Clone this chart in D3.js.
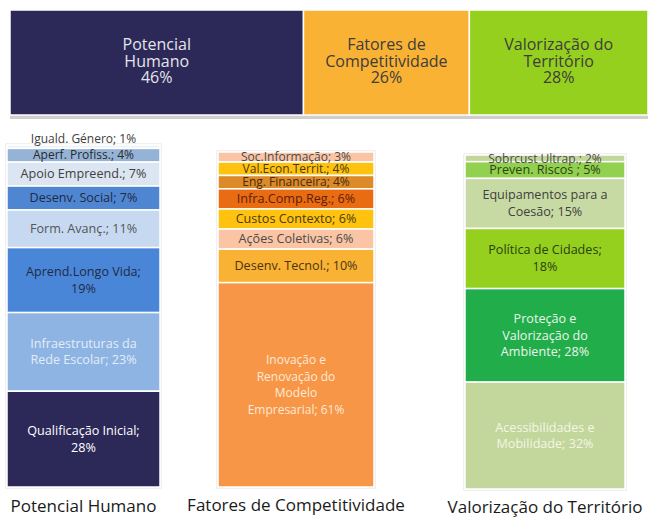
<!DOCTYPE html>
<html>
<head>
<meta charset="utf-8">
<script src="https://cdn.jsdelivr.net/npm/d3@7"></script>
<style>
  body { margin: 0; background: #fff; }
  svg { display: block; }
  text { font-family: "Open Sans", Lato, sans-serif; }
</style>
</head>
<body>
<div id="chart"></div>
<script>
// top bar: the three axes and their share of the total
const groups = ["Potencial Humano", "Fatores de Competitividade", "Valorização do Território"];
const groupTitles = ["Potencial\nHumano", "Fatores de\nCompetitividade", "Valorização do\nTerritório"];
const groupShares = [46, 26, 28];
const groupColors = ["#2c2958", "#f9b233", "#95d01e"];
const groupTextColors = ["#e4e4ec", "#3d3d3d", "#3d3d3d"];

// column 1 - Potencial Humano (top to bottom)
const humanoLabels = ["Iguald. Género; {v}%", "Aperf. Profiss.; {v}%", "Apoio Empreend.; {v}%", "Desenv. Social; {v}%",
  "Form. Avanç.; {v}%", "Aprend.Longo Vida;\n{v}%", "Infraestruturas da\nRede Escolar; {v}%", "Qualificação Inicial;\n{v}%"];
const humanoValues = [1, 4, 7, 7, 11, 19, 23, 28];
const humanoColors = ["#eef2f8", "#95b3d7", "#dce6f2", "#4f86d2", "#c6d9f1", "#4a86d8", "#8db4e3", "#2c2958"];
const humanoText = ["#404040", "#2a2a2a", "#404040", "#1f2a44", "#555555", "#1f2a44", "#e4ecf7", "#ffffff"];

// column 2 - Fatores de Competitividade
const fatoresLabels = ["Soc.Informação; {v}%", "Val.Econ.Territ.; {v}%", "Eng. Financeira; {v}%", "Infra.Comp.Reg.; {v}%",
  "Custos Contexto; {v}%", "Ações Coletivas; {v}%", "Desenv. Tecnol.; {v}%", "Inovação e\nRenovação do\nModelo\nEmpresarial; {v}%"];
const fatoresValues = [3, 4, 4, 6, 6, 6, 10, 61];
const fatoresColors = ["#fbc5a5", "#ffc20e", "#dc8b2b", "#ea6c12", "#ffc20e", "#fbc5a5", "#f9b233", "#f79646"];
const fatoresText = ["#4a4a4a", "#4a3b10", "#4a2a0a", "#5a200a", "#4a3b10", "#4a4a4a", "#4a3510", "#fde9d9"];

// column 3 - Valorização do Território
const territorioLabels = ["Sobrcust Ultrap.; {v}%", "Preven. Riscos ; {v}%", "Equipamentos para a\nCoesão; {v}%",
  "Política de Cidades;\n{v}%", "Proteção e\nValorização do\nAmbiente; {v}%", "Acessibilidades e\nMobilidade; {v}%"];
const territorioValues = [2, 5, 15, 18, 28, 32];
const territorioColors = ["#c4d79b", "#92d050", "#c8daa4", "#95d01e", "#22ad4b", "#c3d69b"];
const territorioText = ["#4a4a4a", "#2b4410", "#404040", "#2b4010", "#eaf6ea", "#f2f6e6"];

const width = 650;
const height = 517;

const svg = d3.select("#chart").append("svg")
  .attr("width", width)
  .attr("height", height);

// ---- top bar ----
const xTop = d3.scaleLinear().domain([0, 100]).range([10, 648]);
const barTop = 10, barBottom = 115;

svg.append("rect")
  .attr("x", 10).attr("y", barBottom)
  .attr("width", 638).attr("height", 4)
  .attr("fill", "#cfcfcf");

let acc = 0;
const topData = groups.map((g, i) => {
  const d = { name: g, title: groupTitles[i], v: groupShares[i], x0: acc, i: i };
  acc += groupShares[i];
  return d;
});

const topG = svg.append("g").selectAll("g")
  .data(topData)
  .join("g");

topG.append("rect")
  .attr("x", d => xTop(d.x0))
  .attr("y", barTop)
  .attr("width", d => xTop(d.x0 + d.v) - xTop(d.x0))
  .attr("height", barBottom - barTop)
  .attr("fill", d => groupColors[d.i])
  .attr("stroke", "#fff")
  .attr("stroke-width", 1.5);

topG.each(function(d) {
  const lines = (d.title + "\n" + d.v + "%").split("\n");
  const cx = (xTop(d.x0) + xTop(d.x0 + d.v)) / 2;
  const t = d3.select(this).append("text")
    .attr("text-anchor", "middle")
    .attr("fill", groupTextColors[d.i])
    .style("font-size", "16px");
  lines.forEach((l, k) => {
    t.append("tspan").attr("x", cx).attr("y", 50 + k * 16.5).text(l);
  });
});

// ---- stacked columns ----
const columns = [
  { name: groups[0], labels: humanoLabels, values: humanoValues, colors: humanoColors, text: humanoText, x0: 7, x1: 160, top: 145, bottom: 487, capY: 512 },
  { name: groups[1], labels: fatoresLabels, values: fatoresValues, colors: fatoresColors, text: fatoresText, x0: 218, x1: 374, top: 152, bottom: 487, capY: 511 },
  { name: groups[2], labels: territorioLabels, values: territorioValues, colors: territorioColors, text: territorioText, x0: 465, x1: 625, top: 155, bottom: 489, capY: 513 }
];

columns.forEach(col => {
  const y = d3.scaleLinear().domain([0, d3.sum(col.values)]).range([col.top, col.bottom]);
  const g = svg.append("g");

  let s = 0;
  const segs = col.values.map((v, i) => {
    const d = { v: v, s0: s, s1: s + v, label: col.labels[i].replace("{v}", v), fill: col.colors[i], tc: col.text[i] };
    s += v;
    return d;
  });

  // faint outline round the column
  g.append("rect")
    .attr("x", col.x0 - 1).attr("y", col.top - 1)
    .attr("width", col.x1 - col.x0 + 2).attr("height", col.bottom - col.top + 2)
    .attr("fill", "none")
    .attr("stroke", "#e2e2e2");

  g.selectAll("rect.seg")
    .data(segs)
    .join("rect")
    .attr("class", "seg")
    .attr("x", col.x0)
    .attr("y", d => y(d.s0))
    .attr("width", col.x1 - col.x0)
    .attr("height", d => y(d.s1) - y(d.s0))
    .attr("fill", d => d.fill)
    .attr("stroke", "#fff")
    .attr("stroke-width", 1.5);

  const cx = (col.x0 + col.x1) / 2;
  g.selectAll("text.lab")
    .data(segs)
    .join("text")
    .attr("class", "lab")
    .attr("text-anchor", "middle")
    .attr("fill", d => d.tc)
    .style("font-size", d => {
      const h = y(d.s1) - y(d.s0);
      return d.v > 50 ? "12px" : (h < 15 ? "12px" : "12.6px");
    })
    .each(function(d) {
      const lines = d.label.split("\n");
      const h = y(d.s1) - y(d.s0);
      // a sliver too thin for its text gets the label just above it
      const mid = h < 6 ? y(d.s0) - 6 : (y(d.s0) + y(d.s1)) / 2;
      const lh = 16.5;
      const first = mid - (lines.length - 1) * lh / 2 + 4.2;
      lines.forEach((l, k) => {
        d3.select(this).append("tspan")
          .attr("x", cx)
          .attr("y", first + k * lh)
          .text(l);
      });
    });

  svg.append("text")
    .attr("x", cx)
    .attr("y", col.capY)
    .attr("text-anchor", "middle")
    .attr("fill", "#1a1a1a")
    .style("font-size", "17px")
    .text(col.name);
});
</script>
</body>
</html>
